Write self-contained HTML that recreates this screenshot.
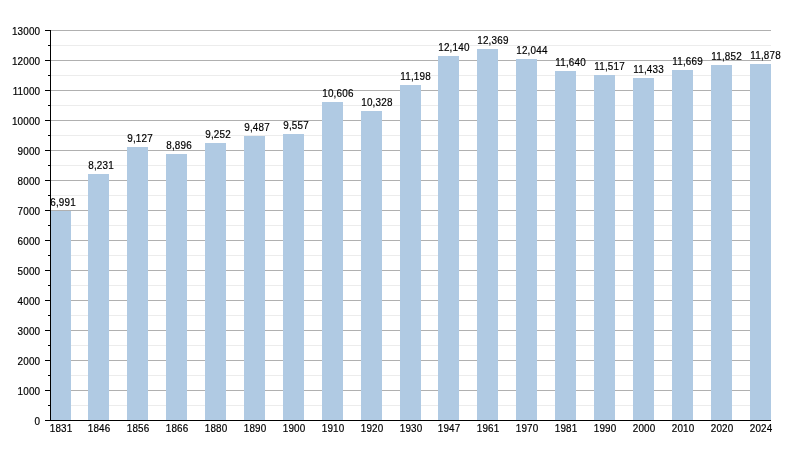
<!DOCTYPE html>
<html><head><meta charset="utf-8"><title>Population chart</title><style>
html,body{margin:0;padding:0;background:#fff;width:800px;height:450px;overflow:hidden}
svg{display:block;will-change:transform}
.t{font-family:"Liberation Sans",sans-serif;font-size:11px;fill:#000;stroke:#000;stroke-width:0.2px;letter-spacing:0.2px}
</style></head><body>
<svg width="800" height="450" viewBox="0 0 800 450">
<g>
<rect x="51" y="405" width="720" height="1" fill="#ececec"/>
<rect x="51" y="375" width="720" height="1" fill="#ececec"/>
<rect x="51" y="345" width="720" height="1" fill="#ececec"/>
<rect x="51" y="315" width="720" height="1" fill="#ececec"/>
<rect x="51" y="285" width="720" height="1" fill="#ececec"/>
<rect x="51" y="255" width="720" height="1" fill="#ececec"/>
<rect x="51" y="225" width="720" height="1" fill="#ececec"/>
<rect x="51" y="195" width="720" height="1" fill="#ececec"/>
<rect x="51" y="165" width="720" height="1" fill="#ececec"/>
<rect x="51" y="135" width="720" height="1" fill="#ececec"/>
<rect x="51" y="105" width="720" height="1" fill="#ececec"/>
<rect x="51" y="75" width="720" height="1" fill="#ececec"/>
<rect x="51" y="45" width="720" height="1" fill="#ececec"/>
<rect x="51" y="390" width="720" height="1" fill="#b0b0b0"/>
<rect x="51" y="360" width="720" height="1" fill="#b0b0b0"/>
<rect x="51" y="330" width="720" height="1" fill="#b0b0b0"/>
<rect x="51" y="300" width="720" height="1" fill="#b0b0b0"/>
<rect x="51" y="270" width="720" height="1" fill="#b0b0b0"/>
<rect x="51" y="240" width="720" height="1" fill="#b0b0b0"/>
<rect x="51" y="210" width="720" height="1" fill="#b0b0b0"/>
<rect x="51" y="180" width="720" height="1" fill="#b0b0b0"/>
<rect x="51" y="150" width="720" height="1" fill="#b0b0b0"/>
<rect x="51" y="120" width="720" height="1" fill="#b0b0b0"/>
<rect x="51" y="90" width="720" height="1" fill="#b0b0b0"/>
<rect x="51" y="60" width="720" height="1" fill="#b0b0b0"/>
<rect x="51" y="30" width="720" height="1" fill="#b0b0b0"/>
</g><g fill="#b0cae3">
<rect x="51" y="211" width="20" height="209"/>
<rect x="88" y="174" width="21" height="246"/>
<rect x="127" y="147" width="21" height="273"/>
<rect x="166" y="154" width="21" height="266"/>
<rect x="205" y="143" width="21" height="277"/>
<rect x="244" y="136" width="21" height="284"/>
<rect x="283" y="134" width="21" height="286"/>
<rect x="322" y="102" width="21" height="318"/>
<rect x="361" y="111" width="21" height="309"/>
<rect x="400" y="85" width="21" height="335"/>
<rect x="438" y="56" width="21" height="364"/>
<rect x="477" y="49" width="21" height="371"/>
<rect x="516" y="59" width="21" height="361"/>
<rect x="555" y="71" width="21" height="349"/>
<rect x="594" y="75" width="21" height="345"/>
<rect x="633" y="78" width="21" height="342"/>
<rect x="672" y="70" width="21" height="350"/>
<rect x="711" y="65" width="21" height="355"/>
<rect x="750" y="64" width="21" height="356"/>
</g><g class="t">
<text transform="translate(50.25,206.00) scale(0.9,1)">6,991</text>
<text transform="translate(88.25,169.00) scale(0.9,1)">8,231</text>
<text transform="translate(127.25,142.00) scale(0.9,1)">9,127</text>
<text transform="translate(166.25,149.00) scale(0.9,1)">8,896</text>
<text transform="translate(205.25,138.00) scale(0.9,1)">9,252</text>
<text transform="translate(244.25,131.00) scale(0.9,1)">9,487</text>
<text transform="translate(283.25,129.00) scale(0.9,1)">9,557</text>
<text transform="translate(322.25,97.00) scale(0.9,1)">10,606</text>
<text transform="translate(361.25,106.00) scale(0.9,1)">10,328</text>
<text transform="translate(400.25,80.00) scale(0.9,1)">11,198</text>
<text transform="translate(438.25,51.00) scale(0.9,1)">12,140</text>
<text transform="translate(477.25,44.00) scale(0.9,1)">12,369</text>
<text transform="translate(516.25,54.00) scale(0.9,1)">12,044</text>
<text transform="translate(555.25,66.00) scale(0.9,1)">11,640</text>
<text transform="translate(594.25,70.00) scale(0.9,1)">11,517</text>
<text transform="translate(633.25,73.00) scale(0.9,1)">11,433</text>
<text transform="translate(672.25,65.00) scale(0.9,1)">11,669</text>
<text transform="translate(711.25,60.00) scale(0.9,1)">11,852</text>
<text transform="translate(750.25,59.00) scale(0.9,1)">11,878</text>
<text transform="translate(49.70,432.40) scale(0.9,1)">1831</text>
<text transform="translate(87.70,432.40) scale(0.9,1)">1846</text>
<text transform="translate(126.70,432.40) scale(0.9,1)">1856</text>
<text transform="translate(165.70,432.40) scale(0.9,1)">1866</text>
<text transform="translate(204.70,432.40) scale(0.9,1)">1880</text>
<text transform="translate(243.70,432.40) scale(0.9,1)">1890</text>
<text transform="translate(282.70,432.40) scale(0.9,1)">1900</text>
<text transform="translate(321.70,432.40) scale(0.9,1)">1910</text>
<text transform="translate(360.70,432.40) scale(0.9,1)">1920</text>
<text transform="translate(399.70,432.40) scale(0.9,1)">1930</text>
<text transform="translate(437.70,432.40) scale(0.9,1)">1947</text>
<text transform="translate(476.70,432.40) scale(0.9,1)">1961</text>
<text transform="translate(515.70,432.40) scale(0.9,1)">1970</text>
<text transform="translate(554.70,432.40) scale(0.9,1)">1981</text>
<text transform="translate(593.70,432.40) scale(0.9,1)">1990</text>
<text transform="translate(632.70,432.40) scale(0.9,1)">2000</text>
<text transform="translate(671.70,432.40) scale(0.9,1)">2010</text>
<text transform="translate(710.70,432.40) scale(0.9,1)">2020</text>
<text transform="translate(749.70,432.40) scale(0.9,1)">2024</text>
<text transform="translate(40.30,425.00) scale(0.9,1)" text-anchor="end">0</text>
<text transform="translate(40.30,395.00) scale(0.9,1)" text-anchor="end">1000</text>
<text transform="translate(40.30,365.00) scale(0.9,1)" text-anchor="end">2000</text>
<text transform="translate(40.30,335.00) scale(0.9,1)" text-anchor="end">3000</text>
<text transform="translate(40.30,305.00) scale(0.9,1)" text-anchor="end">4000</text>
<text transform="translate(40.30,275.00) scale(0.9,1)" text-anchor="end">5000</text>
<text transform="translate(40.30,245.00) scale(0.9,1)" text-anchor="end">6000</text>
<text transform="translate(40.30,215.00) scale(0.9,1)" text-anchor="end">7000</text>
<text transform="translate(40.30,185.00) scale(0.9,1)" text-anchor="end">8000</text>
<text transform="translate(40.30,155.00) scale(0.9,1)" text-anchor="end">9000</text>
<text transform="translate(40.30,125.00) scale(0.9,1)" text-anchor="end">10000</text>
<text transform="translate(40.30,95.00) scale(0.9,1)" text-anchor="end">11000</text>
<text transform="translate(40.30,65.00) scale(0.9,1)" text-anchor="end">12000</text>
<text transform="translate(40.30,35.00) scale(0.9,1)" text-anchor="end">13000</text>
</g><g fill="#000">
<rect x="50" y="30" width="1" height="391"/>
<rect x="45" y="420" width="726" height="1"/>
<rect x="45" y="420" width="5" height="1"/>
<rect x="45" y="390" width="5" height="1"/>
<rect x="45" y="360" width="5" height="1"/>
<rect x="45" y="330" width="5" height="1"/>
<rect x="45" y="300" width="5" height="1"/>
<rect x="45" y="270" width="5" height="1"/>
<rect x="45" y="240" width="5" height="1"/>
<rect x="45" y="210" width="5" height="1"/>
<rect x="45" y="180" width="5" height="1"/>
<rect x="45" y="150" width="5" height="1"/>
<rect x="45" y="120" width="5" height="1"/>
<rect x="45" y="90" width="5" height="1"/>
<rect x="45" y="60" width="5" height="1"/>
<rect x="45" y="30" width="5" height="1"/>
<rect x="48" y="405" width="2" height="1"/>
<rect x="48" y="375" width="2" height="1"/>
<rect x="48" y="345" width="2" height="1"/>
<rect x="48" y="315" width="2" height="1"/>
<rect x="48" y="285" width="2" height="1"/>
<rect x="48" y="255" width="2" height="1"/>
<rect x="48" y="225" width="2" height="1"/>
<rect x="48" y="195" width="2" height="1"/>
<rect x="48" y="165" width="2" height="1"/>
<rect x="48" y="135" width="2" height="1"/>
<rect x="48" y="105" width="2" height="1"/>
<rect x="48" y="75" width="2" height="1"/>
<rect x="48" y="45" width="2" height="1"/>
</g>
</svg>
</body></html>
